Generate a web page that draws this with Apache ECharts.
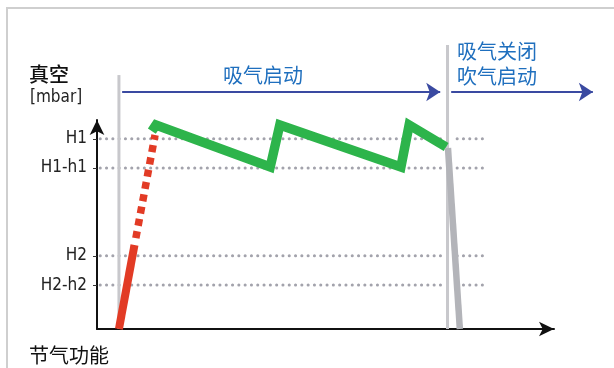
<!DOCTYPE html>
<html>
<head>
<meta charset="utf-8">
<script src="https://cdn.jsdelivr.net/npm/echarts@6/dist/echarts.min.js"></script>
<style>
  html, body { margin: 0; padding: 0; background: #fff; }
  #chart { width: 614px; height: 368px; }
</style>
</head>
<body>
<div id="chart"></div>
<script>
// Threshold levels on the vacuum axis
const levelNames = ['H1', 'H1-h1', 'H2', 'H2-h2'];
const levelValues = [91, 77, 35, 21];

// Vacuum while suction is on: saw-tooth between H1-h1 and the top
const suctionX = [12.0, 12.9, 37.9, 40.0, 66.5, 68.3, 76.4];
const suctionY = [94.7, 97.6, 77.5, 97.6, 77.5, 97.6, 87.1];

// Initial evacuation (solid part, then the dotted part)
const rampSolidX = [4.8, 8.2];
const rampSolidY = [0, 40.2];
const rampDashX = [8.5, 12.7];
const rampDashY = [43.5, 92.8];

// Release after suction is switched off and blow-off starts
const releaseX = [76.8, 79.4];
const releaseY = [86.6, 0];

// Switching instants and their vertical guide tops
const eventX = [4.8, 76.7];
const eventTop = [121.5, 135.9];

// Phase arrows above the curve
const phaseArrowY = 113.4;
const phaseArrows = [[5.5, 75.1], [77.5, 108.5]];

// Extents of the dotted threshold lines
const guideSpans = [[0.7, 75.7], [78.8, 85.1]];

const latin = '"Liberation Sans Narrow", "DejaVu Sans Condensed", "Noto Sans CJK SC", sans-serif';
const cjk = '"Noto Sans CJK SC", sans-serif';

const zip = (xs, ys) => xs.map((x, i) => [x, ys[i]]);

const series = [];

// dotted threshold lines
levelValues.forEach((v) => {
  const data = [];
  guideSpans.forEach((s, i) => {
    if (i > 0) data.push([s[0], '-']);
    data.push([s[0], v], [s[1], v]);
  });
  series.push({
    type: 'line', data, showSymbol: false, silent: true, z: 1,
    connectNulls: false,
    lineStyle: { color: '#a3a3ac', width: 3, type: [0.1, 6.2], cap: 'round' }
  });
});

// thin vertical guides at the switching instants
eventX.forEach((x, i) => {
  series.push({
    type: 'line', data: [[x, 0], [x, eventTop[i]]], showSymbol: false, silent: true,
    clip: false, z: 2,
    lineStyle: { color: '#c8c8cc', width: 3 }
  });
});

// evacuation ramp
series.push({
  type: 'line', data: zip(rampSolidX, rampSolidY), showSymbol: false, z: 4,
  lineStyle: { color: '#e23b25', width: 8, cap: 'butt' }
});
series.push({
  type: 'line', data: zip(rampDashX, rampDashY), showSymbol: false, z: 4,
  lineStyle: { color: '#e23b25', width: 7.5, type: [7, 5.5], cap: 'butt' }
});

// suction saw-tooth
series.push({
  type: 'line', data: zip(suctionX, suctionY), showSymbol: false, z: 5,
  lineStyle: { color: '#2db44b', width: 9.5, join: 'miter', cap: 'butt' }
});

// release curve
series.push({
  type: 'line', data: zip(releaseX, releaseY), showSymbol: false, z: 5,
  lineStyle: { color: '#b3b4b9', width: 6.5, cap: 'butt' }
});

// phase arrows
series.push({
  type: 'lines', coordinateSystem: 'cartesian2d', clip: false, z: 6,
  symbol: ['none', 'arrow'], symbolSize: [13, 14],
  lineStyle: { color: '#3a4aa1', width: 2.2, opacity: 1 },
  data: phaseArrows.map(a => ({ coords: [[a[0], phaseArrowY], [a[1], phaseArrowY]] }))
});

const chart = echarts.init(document.getElementById('chart'), null, { renderer: 'canvas' });
chart.setOption({
  animation: false,
  backgroundColor: '#fff',
  grid: { left: 97, right: 60, top: 120, bottom: 39, containLabel: false },
  xAxis: {
    type: 'value', min: 0, max: 100,
    axisLine: { show: true, symbol: ['none', 'arrow'], symbolSize: [11, 15],
      lineStyle: { color: '#111', width: 2 } },
    axisTick: { show: false }, axisLabel: { show: false }, splitLine: { show: false }
  },
  yAxis: {
    type: 'value', min: 0, max: 100,
    axisLine: { show: true, symbol: ['none', 'arrow'], symbolSize: [11, 15],
      lineStyle: { color: '#111', width: 2 } },
    axisTick: { show: true, customValues: levelValues, length: 4,
      lineStyle: { color: '#333', width: 1 } },
    axisLabel: {
      show: true, customValues: levelValues, margin: 10,
      formatter: (v) => levelNames[levelValues.indexOf(v)] || '',
      fontFamily: latin, fontSize: 17, color: '#222', padding: [0, 0, 6, 0]
    },
    splitLine: { show: false }
  },
  graphic: [
    { type: 'rect', silent: true, z: 0,
      shape: { x: 7, y: 8, width: 700, height: 400 },
      style: { fill: 'none', stroke: '#cfcfcf', lineWidth: 2 } },
    { type: 'text', x: 29, y: 74, style: { text: '真空', font: '500 20px ' + cjk, fill: '#111', verticalAlign: 'middle' } },
    { type: 'text', x: 30, y: 98, style: { text: '[mbar]', font: '17px ' + latin, fill: '#222', verticalAlign: 'middle' } },
    { type: 'text', x: 29, y: 355, style: { text: '节气功能', font: '20px ' + cjk, fill: '#111', verticalAlign: 'middle' } },
    { type: 'text', x: 263, y: 75, style: { text: '吸气启动', font: '20px ' + cjk, fill: '#1f6fbe', align: 'center', verticalAlign: 'middle' } },
    { type: 'text', x: 457, y: 51, style: { text: '吸气关闭', font: '20px ' + cjk, fill: '#1f6fbe', verticalAlign: 'middle' } },
    { type: 'text', x: 457, y: 76, style: { text: '吹气启动', font: '20px ' + cjk, fill: '#1f6fbe', verticalAlign: 'middle' } }
  ],
  series
});
</script>
</body>
</html>
